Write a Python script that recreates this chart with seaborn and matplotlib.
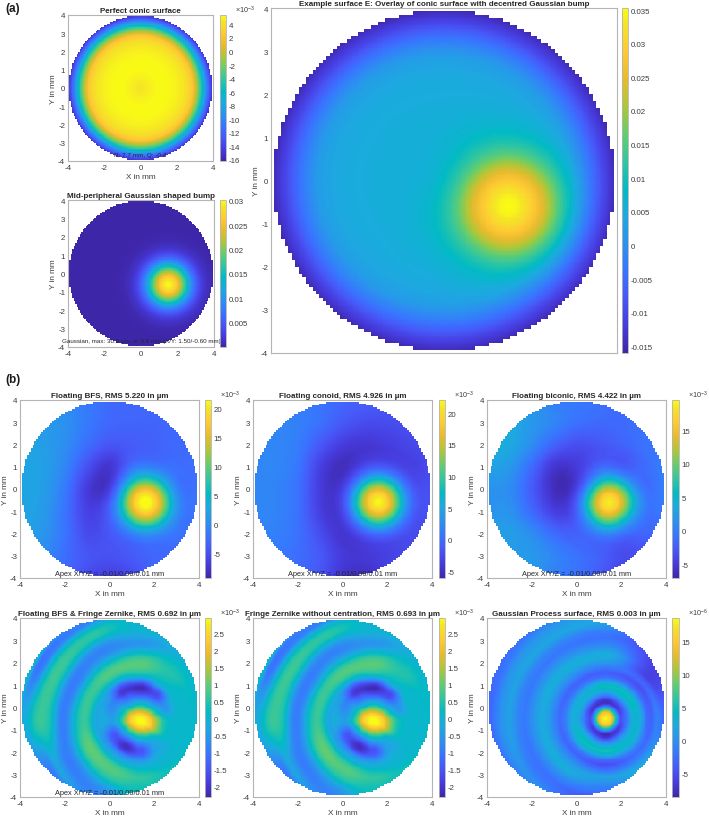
import numpy as np
import pandas as pd
import seaborn as sns
import matplotlib
matplotlib.use("Agg")
import matplotlib.pyplot as plt
from matplotlib.colors import LinearSegmentedColormap

# Radial profile of the conic surface, in units of 1e-3 mm
conic_radius = [0, .5, 1, 1.5, 2, 2.4, 2.6, 2.9, 3.2, 3.4, 3.67, 3.9, 4, 6]
conic_height = [4.3, 4.8, 5.3, 5.3, 4.9, 4.4, 3.8, 2.2, -2, -5.4, -10.5, -14.2, -16, -16.2]

# Radial profile of the Gaussian bump around its apex, in units of 1e-3 mm
bump_radius = [0, .2, .4, .6, .8, 1, 1.2, 1.4, 1.6, 1.8, 2, 2.4, 3, 8]
bump_height = [30.2, 29.2, 27, 23.5, 19.5, 15, 10.5, 7, 4.5, 2.7, 1.5, .4, .03, 0]

# Smooth remainder of the three floating fits, 1 mm table, rows y=4..-4, columns x=-4..4
bfs_background = [
    [1, 1, 0, -1.5, -3, -3, -3, -3, -3],
    [2, 1.5, .5, -1.5, -3, -3.3, -3.3, -3, -3],
    [2.5, 1.8, .2, -2.5, -4.5, -4.2, -3.7, -3, -2.8],
    [2.5, 2, -.5, -5, -8.2, -5.6, -5.2, -3.5, -2.5],
    [2.5, 1.8, -1.5, -7, -10, -8, -7, -5.6, -2.5],
    [2.5, 1.5, -2, -6.5, -7.5, -8, -7, -5.2, -2.3],
    [2, 1, -2, -5.5, -5.5, -6.2, -5.6, -3.5, -3],
    [1, 0, -2.5, -4.5, -5, -4.5, -3.5, -3, -3],
    [0, -1, -3, -5.5, -6.5, -5.5, -3.5, -3, -3],
]
conoid_background = [
    [1.5, 1.5, 1, .5, -.5, -1, -1.5, -2, -2],
    [2, 2, 1.5, .3, -1.5, -2.5, -2.5, -2.2, -2],
    [2, 2, 1.2, -1.5, -3.8, -4.5, -4, -3, -2.5],
    [2, 2, .7, -3.5, -6, -6, -5.8, -4.5, -2.5],
    [2, 1.8, .3, -4, -7, -8, -7.5, -5.5, -2.5],
    [2, 1.8, .3, -3.8, -7, -8, -7.5, -5.5, -2.5],
    [1.5, 1.5, .3, -2.5, -5.5, -6.5, -6, -4, -2.5],
    [1, 1, 0, -1.5, -4, -4.5, -3.8, -2.5, -2],
    [.5, .5, -.3, -2, -4.5, -5, -3.5, -2, -2],
]
biconic_background = [
    [3, 3, 1.5, 0, -.5, -1, -1.5, -1.5, -1.5],
    [4, 3.5, 2, .5, -1, -1.5, -1.5, -1, -1],
    [4, 3.5, 1, -2, -3.5, -3.2, -2.3, -1, -.5],
    [3, 2, -1.5, -5.5, -6, -5.8, -6, -2.3, 0],
    [1.5, 1, -2.5, -6.5, -9, -11, -10, -4.7, 0],
    [1.5, 1.5, -1.5, -5, -7.5, -10, -10, -4.5, -.5],
    [2.5, 2.5, 1, -1.5, -3.5, -5.5, -6, -3, -1.5],
    [2, 2, 2, .5, -1, -2.5, -4, -3.5, -2.5],
    [1, 1.5, 1.5, 0, -1, -2.5, -4.5, -4, -3],
]

# Fringe Zernike residual in arcs around (1.4, -0.6), units of 1e-3 mm.
# Rows are 0.25 mm apart, columns run counter-clockwise from east in 30 degree steps.
fringe_distance = [.25 * k for k in range(24)]
fringe_residual = [
    [3, 3, 3, 3, 3, 3, 3, 3, 3, 3, 3, 3],
    [2.8, 2.7, 2.6, 2.6, 2.7, 2.8, 2.8, 2.7, 2.6, 2.6, 2.7, 2.85],
    [2.1, 1.7, 1.4, 1.3, 1.6, 2.1, 2.2, 1.7, 1.3, 1.3, 1.6, 2.2],
    [1.2, .5, .1, .2, .2, .8, 1, .4, .1, .2, .5, 1.3],
    [.5, -.3, -.8, -.8, -.7, -.1, .1, -.7, -1.2, -.7, -.2, .6],
    [.2, -.6, -1.6, -1.8, -1.4, -.6, -.4, -1.5, -2.1, -1.5, -.3, .2],
    [.1, -.3, -1.5, -2.2, -2, -.8, -.3, -1.4, -1.9, -1.4, -.3, .1],
    [.1, .1, -.3, -1.3, -1.6, -.4, -.1, -.7, -.7, -.6, -.1, .1],
    [.1, .1, .2, .1, -.4, -.2, -.3, -.2, -.1, -.1, 0, .1],
    [.1, .1, .4, .7, .5, .4, .3, .6, .6, .3, .1, .1],
    [.1, .2, .5, .95, .9, .7, .7, 1, .9, .6, .3, .2],
    [0, .1, .4, .8, .7, .5, .5, .85, .75, .5, .3, .2],
    [0, 0, .2, .3, .1, -.2, 0, .3, .4, .35, .3, .2],
    [0, 0, 0, -.3, -.5, -.8, -.7, -.4, -.2, .3, .2, .2],
    [0, 0, -.1, -.6, -.85, -.95, -.95, -.85, -.65, .1, .2, .2],
    [0, 0, 0, -.3, -.7, -.5, -.5, -.95, -.85, -.2, .2, .2],
    [0, 0, 0, 0, -.1, .3, .3, -.6, -.85, -.2, .2, .2],
    [0, 0, 0, 0, .5, .7, .6, -.3, -.8, -.2, .2, .2],
    [0, 0, 0, 0, .5, .6, .7, -.9, -.8, -.2, .2, .2],
    [0, 0, 0, 0, -.1, 0, .5, -1, -.8, -.2, .2, .2],
    [0, 0, 0, 0, -.9, -.9, .1, -1, -.8, -.2, .2, .2],
    [0, 0, 0, 0, -.8, -1, -.2, -1, -.8, -.2, .2, .2],
    [0, 0, 0, 0, -.6, .5, -.3, -1, -.8, -.2, .2, .2],
    [0, 0, 0, 0, -.6, .5, -.3, -1, -.8, -.2, .2, .2],
]

# Gaussian process residual in rings around (1.3, -0.5), units of 1e-6 mm.
# Columns run counter-clockwise from east in 45 degree steps.
ring_distance = [0, .15, .3, .45, .6, .7, .85, 1.05, 1.25, 1.45, 1.65, 1.85, 2.05, 2.3, 2.6,
                 2.85, 3.2, 3.6, 3.9, 4.3, 4.7, 5.1, 5.5, 8]
ring_residual = [
    [18.6, 18.6, 18.6, 18.6, 18.6, 18.6, 18.6, 18.6],
    [17, 17, 17, 17, 17, 17, 17, 17],
    [14, 14, 14, 14, 14, 14, 14, 14],
    [5, 5, 5, 5, 5, 5, 5, 5],
    [-3, -4, -4.5, -4, -3, -4, -5, -4],
    [-5, -7, -8, -7.5, -5.5, -7, -8.5, -7],
    [-3, -5, -7, -5.5, -3.5, -5, -7, -5],
    [0, 0, -1, 0, 0, 1, -1, 0],
    [3.5, 4, 3, 3, 2.5, 4, 3, 3],
    [3.5, 5, 5, 3, 3, 5, 5.5, 4],
    [1, 1, 2, .5, .5, 2, 2.5, 2],
    [-3, -3, -2.5, -2.5, -2, -2, -3, -1],
    [-3.5, -5, -4, -3.5, -3, -3.5, -5, -3],
    [-1, -3, -1.5, -1, -1, -1, -2.5, -1],
    [-3, -6, 1.5, 1.5, 1.5, 1.5, 2, 2],
    [-3, -6, 3, 3, 2.5, 3, 0, 3],
    [-3, -6, 0, .5, .5, 0, -2, -6],
    [-3, -6, -2.5, -2, -2, -2.5, -5, -6],
    [-3, -6, -1.5, -1, -1, -2, -5, -6],
    [-3, -6, 2, 2, 1.5, 0, -5, -6],
    [-3, -6, 1, .5, 0, -2, -5, -6],
    [-3, -6, 0, -2, -3, -4, -5, -6],
    [-3, -6, 0, -3, -3, -4, -5, -6],
    [-3, -6, 0, -3, -3, -4, -5, -6],
]

# Colour stops of the surface map, as (position, rgb)
map_positions = [0, .0794, .1587, .2381, .3175, .3968, .4762, .5556, .6349, .7143, .7937, .873, .9524, 1]
map_colors = [(.2422, .1504, .6603), (.2751, .2342, .8710), (.2795, .3447, .9717),
              (.2206, .4603, .9973), (.1687, .5703, .9359), (.1113, .6635, .8763),
              (.0067, .7312, .7660), (.1938, .7758, .6251), (.3909, .8029, .4354),
              (.6720, .7793, .2227), (.9035, .7330, .1774), (.9952, .7861, .1991),
              (.9610, .8890, .1537), (.9769, .9839, .0805)]

CELL = 0.04
MESH = 0.08
centres = -4 + CELL / 2 + CELL * np.arange(200)
X, Y = np.meshgrid(centres, centres[::-1])
FIG_W, FIG_H = 709, 820


def cubic_along(table, knots, targets, axis):
    """Catmull-Rom resampling of a table along one axis."""
    table = np.moveaxis(np.asarray(table, float), axis, 0)
    knots = np.asarray(knots, float)
    step = knots[1] - knots[0]
    pos = np.clip((targets - knots[0]) / step, 0, len(knots) - 1 - 1e-9)
    i = pos.astype(int)
    t = (pos - i)[:, None]
    last = len(knots) - 1
    p0 = table[np.clip(i - 1, 0, last)]
    p1 = table[i]
    p2 = table[np.clip(i + 1, 0, last)]
    p3 = table[np.clip(i + 2, 0, last)]
    out = 0.5 * (2 * p1 + (p2 - p0) * t + (2 * p0 - 5 * p1 + 4 * p2 - p3) * t ** 2
                 + (3 * p1 - p0 - 3 * p2 + p3) * t ** 3)
    return np.moveaxis(out, 0, axis)


def from_table(table):
    table = np.asarray(table, float)
    n = table.shape[0]
    ys = np.linspace(4, -4, n)
    xs = np.linspace(-4, 4, n)
    # rows run from y=4 downward, so flip to keep the knots ascending
    rows = cubic_along(table[::-1], ys[::-1], centres, 0)
    full = cubic_along(rows, xs, centres, 1)
    return full[::-1]


def conic_field():
    return np.interp(np.hypot(X, Y), conic_radius, conic_height)


def bump_field(cx=1.5, cy=-0.6):
    return np.interp(np.hypot(X - cx, Y - cy), bump_radius, bump_height)


def polar_field(table, knots, cx, cy, uniform):
    """Evaluate a (distance, direction) table on the plotting grid."""
    table = np.asarray(table, float)
    directions = table.shape[1]
    dist = np.hypot(X - cx, Y - cy)
    angle = np.mod(np.arctan2(Y - cy, X - cx), 2 * np.pi) / (2 * np.pi / directions)
    k = angle.astype(int)
    w = angle - k
    w = w * w * (3 - 2 * w)
    if uniform:
        flat = cubic_along(table, knots, dist.ravel(), 0)
        columns = np.moveaxis(flat, 1, 0).reshape(directions, *dist.shape)
    else:
        columns = np.stack([np.interp(dist, knots, table[:, j]) for j in range(directions)])
    rows, cols = np.indices(dist.shape)
    return columns[k % directions, rows, cols] * (1 - w) + columns[(k + 1) % directions, rows, cols] * w


sns.set_theme(style="white", font="Liberation Sans", rc={
    "axes.unicode_minus": False,
    "mathtext.default": "regular",
    "xtick.direction": "in",
    "ytick.direction": "in",
    "xtick.bottom": True,
    "ytick.left": True,
    "xtick.top": True,
    "ytick.right": True,
})
cmap = LinearSegmentedColormap.from_list("surface", list(zip(map_positions, map_colors)), N=256)
cmap.set_bad("white")
GRID_COLOR = "#b4b4b4"
TEXT_COLOR = "#3c3c3c"

fig = plt.figure(figsize=(FIG_W / 100, FIG_H / 100), dpi=100, facecolor="white")

# The measurement mesh is 0.08 mm wide, which gives the disc its stepped rim
mesh_x = (np.floor((X + 4) / MESH) + .5) * MESH - 4
mesh_y = (np.floor((Y + 4) / MESH) + .5) * MESH - 4
disc_mask = np.hypot(mesh_x, mesh_y) >= 3.95


def box(left, top, right, bottom):
    return [left / FIG_W, 1 - bottom / FIG_H, (right - left) / FIG_W, (bottom - top) / FIG_H]


def to_col(x):
    return (np.asarray(x, float) + 4) / CELL


def to_row(y):
    return (4 - np.asarray(y, float)) / CELL


def panel(field, rect, cbar_x, limits, ticks, title, note=None, note_y=-3.8, note_size=5.35,
          scale=None, xlabel=True, xtick_labels=True, tick_labels=None, xtick_step=2):
    ax = fig.add_axes(box(*rect))
    cax = fig.add_axes(box(cbar_x[0], rect[1], cbar_x[1], rect[3]))
    frame = pd.DataFrame(field, index=centres[::-1].round(2), columns=centres.round(2))
    sns.heatmap(frame, ax=ax, cbar_ax=cax, cmap=cmap, vmin=limits[0], vmax=limits[1],
                mask=disc_mask, xticklabels=False, yticklabels=False,
                cbar_kws={"ticks": ticks})
    for spine in ax.spines.values():
        spine.set_visible(True)
        spine.set_color(GRID_COLOR)
        spine.set_linewidth(0.8)
    xt = np.arange(-4, 5, xtick_step)
    yt = np.arange(-4, 5)
    ax.set_xticks(to_col(xt))
    ax.set_yticks(to_row(yt))
    ax.set_xticklabels([str(v) for v in xt] if xtick_labels else [""] * len(xt))
    ax.set_yticklabels([str(v) for v in yt], rotation=0)
    ax.tick_params(axis="both", length=2, width=0.5, color=GRID_COLOR, labelsize=5.7,
                   labelcolor=TEXT_COLOR, pad=2, top=True, right=True, bottom=True, left=True)
    ax.set_xlabel("X in mm" if xlabel else "", fontsize=5.9, color=TEXT_COLOR, labelpad=1.5)
    ax.set_ylabel("Y in mm", fontsize=5.9, color=TEXT_COLOR, labelpad=0.5)
    ax.set_title(title, fontsize=5.75, fontweight="bold", color="#262626", pad=2.2)
    if note:
        ax.text(to_col(0), to_row(note_y), note, fontsize=note_size, color="#262626",
                ha="center", va="center")
    cax.tick_params(axis="y", length=2, width=0.5, color=GRID_COLOR, labelsize=5.7,
                    labelcolor=TEXT_COLOR, pad=2, right=True, left=False)
    if tick_labels:
        cax.set_yticks(ticks)
        cax.set_yticklabels(tick_labels)
    cbar = ax.collections[0].colorbar
    cbar.outline.set_visible(True)
    cbar.outline.set_edgecolor(GRID_COLOR)
    cbar.outline.set_linewidth(0.6)
    if scale:
        cax.text(1 + 9 / (cbar_x[1] - cbar_x[0]), 1.0, scale, transform=cax.transAxes,
                 fontsize=5.2, color=TEXT_COLOR, ha="left", va="bottom")
    return ax


conic = conic_field()
bump = bump_field()
milli = r"$\times10^{-3}$"
micro = r"$\times10^{-6}$"

panel(conic, (68, 16, 213, 162), (220, 226), (-16.2, 5.4), list(range(-16, 5, 2)),
      "Perfect conic surface", note="R: 7.7 mm, Q: -0.4", note_y=-3.65, note_size=4.6, scale=milli)

gauss_ticks = [.005, .01, .015, .02, .025, .03]
panel(bump / 1000, (68, 201, 214, 348), (220, 226), (0, 0.0302), gauss_ticks,
      "Mid-peripheral Gaussian shaped bump",
      note="Gaussian, max: 30.0 µm, σ: 0.8 mm (X/Y: 1.50/-0.60 mm)", note_y=-3.65, note_size=4.5,
      xlabel=False, tick_labels=["0.005", "0.01", "0.015", "0.02", "0.025", "0.03"])

overlay_ticks = [-.015, -.01, -.005, 0, .005, .01, .015, .02, .025, .03, .035]
panel((conic + bump) / 1000, (271, 9, 617, 354), (622, 628), (-0.016, 0.0353), overlay_ticks,
      "Example surface E: Overlay of conic surface with decentred Gaussian bump",
      xlabel=False, xtick_labels=False, xtick_step=1,
      tick_labels=["-0.015", "-0.01", "-0.005", "0", "0.005", "0.01", "0.015", "0.02", "0.025",
                   "0.03", "0.035"])

apex = "Apex X/Y/Z = -0.01/0.00/0.01 mm"
panel(from_table(bfs_background) + bump_field(1.58, -0.6), (20, 401, 199, 579), (205, 211),
      (-9.2, 21.5), [-5, 0, 5, 10, 15, 20], "Floating BFS, RMS 5.220 in µm", note=apex, scale=milli)
panel(from_table(conoid_background) + bump_field(1.58, -0.58), (253, 401, 432, 579), (439, 445),
      (-6.05, 22.1), [-5, 0, 5, 10, 15, 20], "Floating conoid, RMS 4.926 in µm", note=apex, scale=milli)
panel(from_table(biconic_background) + bump_field(1.46, -0.58), (487, 401, 666, 579), (672, 679),
      (-7, 19.5), [-5, 0, 5, 10, 15], "Floating biconic, RMS 4.422 in µm", note=apex, scale=milli)

fringe = polar_field(fringe_residual, fringe_distance, 1.4, -0.6, True)
fringe_ticks = [-2, -1.5, -1, -.5, 0, .5, 1, 1.5, 2, 2.5]
fringe_labels = ["-2", "-1.5", "-1", "-0.5", "0", "0.5", "1", "1.5", "2", "2.5"]
panel(fringe, (20, 619, 199, 798), (205, 211), (-2.32, 2.97), fringe_ticks,
      "Floating BFS & Fringe Zernike, RMS 0.692 in µm", note=apex, scale=milli,
      tick_labels=fringe_labels)
panel(fringe, (253, 619, 432, 798), (439, 445), (-2.3, 2.95), fringe_ticks,
      "Fringe Zernike without centration, RMS 0.693 in µm", scale=milli, tick_labels=fringe_labels)
panel(polar_field(ring_residual, ring_distance, 1.3, -0.5, False), (487, 619, 666, 798), (672, 679),
      (-8.6, 18.6), [-5, 0, 5, 10, 15], "Gaussian Process surface, RMS 0.003 in µm", scale=micro)

fig.text(5 / FIG_W, 1 - 9 / FIG_H, "(a)", fontsize=8.5, fontweight="bold", color="#1a1a1a", va="center")
fig.text(5 / FIG_W, 1 - 380 / FIG_H, "(b)", fontsize=8.5, fontweight="bold", color="#1a1a1a", va="center")

fig.savefig("out.png", dpi=100, facecolor="white")
